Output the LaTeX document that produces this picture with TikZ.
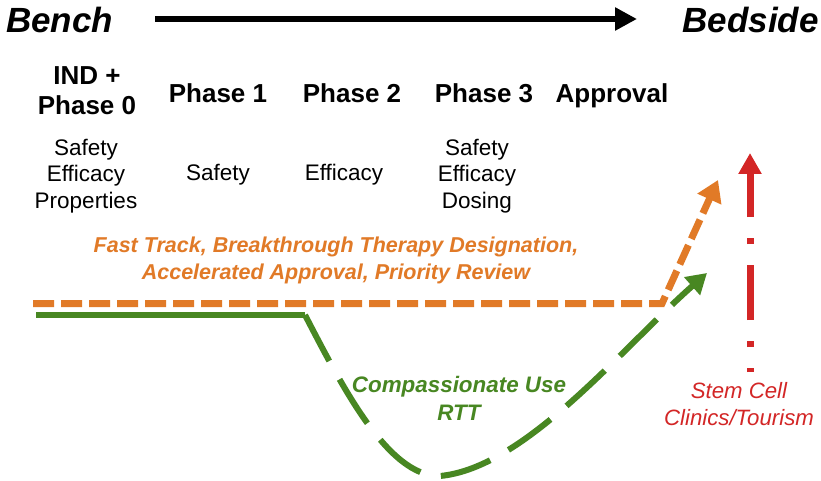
\documentclass[tikz,border=0pt]{standalone}
\usepackage{fontspec}
\setmainfont{Liberation Sans}
\usetikzlibrary{arrows.meta}
\definecolor{myorange}{RGB}{225,122,39}
\definecolor{mygreen}{RGB}{72,135,34}
\definecolor{myred}{RGB}{211,38,38}
\tikzset{
  endtxt/.style={inner sep=0pt, font=\fontsize{35}{40}\selectfont\bfseries\itshape},
  headtxt/.style={inner sep=0pt, anchor=base, align=center, font=\fontsize{26}{30}\selectfont\bfseries},
  subtxt/.style={inner sep=0pt, anchor=base, align=center, font=\fontsize{22.5}{26.5}\selectfont},
  orangetxt/.style={inner sep=0pt, anchor=base, align=center, text=myorange, font=\fontsize{21.5}{27}\selectfont\bfseries\itshape},
  greentxt/.style={inner sep=0pt, anchor=base, align=center, text=mygreen, font=\fontsize{22.4}{28}\selectfont\bfseries\itshape},
  redtxt/.style={inner sep=0pt, anchor=base, align=center, text=myred, font=\fontsize{22.2}{27}\selectfont\itshape},
  blackarrow/.style={line width=6pt, -{Triangle[width=22pt,length=22pt]}},
  orangepath/.style={myorange, line width=7pt, dash pattern=on 21pt off 7pt, -{Triangle[width=25pt,length=21pt]}},
  greensolid/.style={mygreen, line width=6pt},
  greenpath/.style={mygreen, line width=6pt, dash pattern=on 52pt off 21pt, -{Triangle[width=23pt,length=20pt]}},
  redpath/.style={myred, line width=7pt, dash pattern=on 55pt off 21pt on 6pt off 21pt, dash phase=51pt, -{Triangle[width=22pt,length=21pt]}},
}
\begin{document}
\begin{tikzpicture}[x=1pt,y=-1pt]
\fill[white] (0,0) rectangle (821,481);
\useasboundingbox (0,0) rectangle (821,481);

% top timeline
\node[endtxt, anchor=base west] (bench) at (6,33) {Bench};
\node[endtxt, anchor=base east] (bedside) at (819,33) {Bedside};
\coordinate (tl1) at (155,19);
\coordinate (tl2) at (637,19);
\draw[blackarrow] (tl1) -- (tl2);

% phase headings (anchor base = last line)
\node[headtxt] (ind) at (87,115) {IND +\\Phase 0};
\node[headtxt] (ph1) at (218,103) {Phase 1};
\node[headtxt] (ph2) at (352,103) {Phase 2};
\node[headtxt] (ph3) at (484,103) {Phase 3};
\node[headtxt] (appr) at (612,103) {Approval};

% sub texts
\node[subtxt] (s0) at (86,208) {Safety\\Efficacy\\Properties};
\node[subtxt] (s1) at (218,181) {Safety};
\node[subtxt] (s2) at (344,181) {Efficacy};
\node[subtxt] (s3) at (477,208) {Safety\\Efficacy\\Dosing};

% orange fast track path
\node[orangetxt] (fast) at (336,279) {Fast Track, Breakthrough Therapy Designation,\\Accelerated Approval, Priority Review};
\coordinate (o1) at (33,303.5);
\coordinate (o2) at (662,303.5);
\coordinate (o3) at (718,180);
\draw[orangepath] (o1) -- (o2) -- (o3);

% green compassionate use path
\coordinate (g1) at (36,315);
\coordinate (g2) at (305,315);
\coordinate (g3) at (440,476);
\coordinate (g4) at (707,273);
\draw[greensolid] (g1) -- (g2);
\draw[greenpath] (g2) .. controls (342,386) and (388,477) .. (g3)
                      .. controls (525,468) and (620,350) .. (g4);
\node[greentxt] (cu) at (459,420) {Compassionate Use\\RTT};

% red stem cell path
\coordinate (r1) at (750,372);
\coordinate (r2) at (750,153);
\draw[redpath] (r1) -- (r2);
\node[redtxt] (sc) at (739,425) {Stem Cell\\Clinics/Tourism};
\end{tikzpicture}
\end{document}
